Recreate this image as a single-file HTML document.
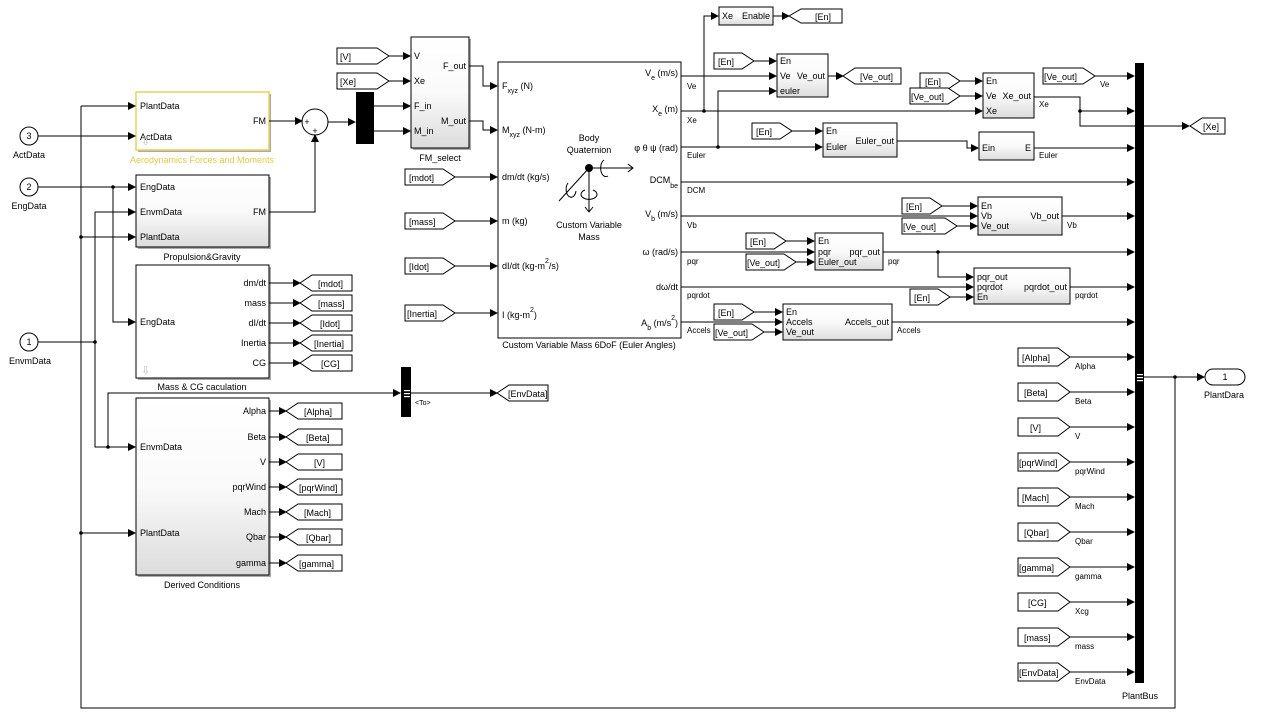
<!DOCTYPE html>
<html><head><meta charset="utf-8"><style>
html,body{margin:0;padding:0;background:#fff;}
svg{display:block;font-family:"Liberation Sans",sans-serif;font-size:9px;}
</style></head><body>
<svg width="1269" height="721" viewBox="0 0 1269 721" xmlns="http://www.w3.org/2000/svg">
<defs>
<marker id="a" markerWidth="8" markerHeight="8" refX="7" refY="4" orient="auto" markerUnits="userSpaceOnUse"><path d="M0,0 L8,4 L0,8 z" fill="#000"/></marker>
<linearGradient id="g" x1="0" y1="0" x2="0" y2="1"><stop offset="0" stop-color="#fff"/><stop offset="0.5" stop-color="#fafafa"/><stop offset="1" stop-color="#dcdcdc"/></linearGradient>
</defs>
<rect width="1269" height="721" fill="#fff"/>

<g stroke="#000" stroke-width="1">
<rect x="138" y="94" width="133" height="58" fill="#aaa" stroke="none"/>
<rect x="136" y="92" width="133" height="58" fill="#fff" stroke="#f0d050" stroke-width="1.5"/>
<rect x="138" y="177" width="133" height="72" fill="#aaa" stroke="none"/>
<rect x="136" y="175" width="133" height="72" fill="url(#g)"/>
<rect x="138" y="267" width="133" height="113" fill="#aaa" stroke="none"/>
<rect x="136" y="265" width="133" height="113" fill="#fff"/>
<rect x="138" y="400" width="133" height="177" fill="#aaa" stroke="none"/>
<rect x="136" y="398" width="133" height="177" fill="url(#g)"/>
<rect x="413" y="39" width="58" height="111" fill="#aaa" stroke="none"/>
<rect x="411" y="37" width="58" height="111" fill="url(#g)"/>
<rect x="498" y="62" width="183" height="276" fill="#fff"/>
<rect x="719" y="7" width="54" height="18" fill="url(#g)"/>
<rect x="777" y="54" width="51" height="43" fill="url(#g)"/>
<rect x="983" y="73" width="51" height="45" fill="url(#g)"/>
<rect x="823" y="123" width="74" height="34" fill="url(#g)"/>
<rect x="979" y="132" width="55" height="28" fill="url(#g)"/>
<rect x="978" y="197" width="84" height="38" fill="url(#g)"/>
<rect x="815" y="233" width="68" height="37" fill="url(#g)"/>
<rect x="974" y="268" width="96" height="36" fill="url(#g)"/>
<rect x="783" y="304" width="109" height="36" fill="url(#g)"/>
</g>
<rect x="356" y="92" width="18" height="52" fill="#000"/>
<rect x="401" y="367" width="10" height="50" fill="#000"/>
<rect x="404" y="390" width="6" height="1.2" fill="#fff"/><rect x="404" y="393" width="6" height="1.2" fill="#fff"/><rect x="404" y="396" width="6" height="1.2" fill="#fff"/>
<rect x="1135" y="63" width="9" height="620" fill="#000"/>
<rect x="1137" y="374" width="6" height="1.2" fill="#fff"/><rect x="1137" y="377" width="6" height="1.2" fill="#fff"/><rect x="1137" y="380" width="6" height="1.2" fill="#fff"/>

<g stroke="#000" fill="#fff">
<circle cx="29" cy="136" r="9"/><circle cx="29" cy="187" r="9"/><circle cx="29" cy="342" r="9"/>
<circle cx="315" cy="122" r="13"/>
<rect x="1205" y="369" width="40" height="16" rx="8"/>
</g>
<g text-anchor="middle">
<text x="29" y="139">3</text><text x="29" y="190">2</text><text x="29" y="345">1</text>
<text x="1225" y="380">1</text>
<text x="29" y="158">ActData</text><text x="29" y="209">EngData</text><text x="30" y="364">EnvmData</text>
<text x="1224" y="398">PlantDara</text>
<text x="307" y="125">+</text><text x="315" y="134">+</text>
</g>

<g stroke="#000" fill="none" stroke-width="1">
<path d="M38,136H135" marker-end="url(#a)"/>
<path d="M81,106H135" marker-end="url(#a)"/>
<path d="M81,106V708H1175V377"/>
<path d="M81,237H135" marker-end="url(#a)"/>
<path d="M81,533H135" marker-end="url(#a)"/>
<path d="M38,187H135" marker-end="url(#a)"/>
<path d="M113,187V322H135" marker-end="url(#a)"/>
<path d="M38,342H95"/>
<path d="M95,212H135" marker-end="url(#a)"/>
<path d="M95,212V447H135" marker-end="url(#a)"/>
<path d="M108,447V393H400" marker-end="url(#a)"/>
<path d="M269,121H302" marker-end="url(#a)"/>
<path d="M328,122H355" marker-end="url(#a)"/>
<path d="M269,212H315V135" marker-end="url(#a)"/>
<path d="M374,106H410" marker-end="url(#a)"/>
<path d="M374,131H410" marker-end="url(#a)"/>
<path d="M389,56H410" marker-end="url(#a)"/>
<path d="M389,81H410" marker-end="url(#a)"/>
<path d="M469,66H483V86H497" marker-end="url(#a)"/>
<path d="M469,121H483V130H497" marker-end="url(#a)"/>
<path d="M455,177H497" marker-end="url(#a)"/>
<path d="M455,221H497" marker-end="url(#a)"/>
<path d="M455,266H497" marker-end="url(#a)"/>
<path d="M455,313H497" marker-end="url(#a)"/>
<path d="M269,283H300" marker-end="url(#a)"/>
<path d="M269,303H300" marker-end="url(#a)"/>
<path d="M269,323H300" marker-end="url(#a)"/>
<path d="M269,343H300" marker-end="url(#a)"/>
<path d="M269,363H300" marker-end="url(#a)"/>
<path d="M269,411H286" marker-end="url(#a)"/>
<path d="M269,437H286" marker-end="url(#a)"/>
<path d="M269,462H286" marker-end="url(#a)"/>
<path d="M269,487H286" marker-end="url(#a)"/>
<path d="M269,512H286" marker-end="url(#a)"/>
<path d="M269,537H286" marker-end="url(#a)"/>
<path d="M269,563H286" marker-end="url(#a)"/>
<path d="M411,393H497" marker-end="url(#a)"/>
<path d="M681,76H776" marker-end="url(#a)"/>
<path d="M681,111H982" marker-end="url(#a)"/>
<path d="M704,111V16H718" marker-end="url(#a)"/>
<path d="M773,16H789" marker-end="url(#a)"/>
<path d="M828,76H843" marker-end="url(#a)"/>
<path d="M754,61H776" marker-end="url(#a)"/>
<path d="M681,147H822" marker-end="url(#a)"/>
<path d="M718,147V91H776" marker-end="url(#a)"/>
<path d="M897,141H967V148H978" marker-end="url(#a)"/>
<path d="M1034,148H1134" marker-end="url(#a)"/>
<path d="M960,81H982" marker-end="url(#a)"/>
<path d="M960,96H982" marker-end="url(#a)"/>
<path d="M1034,97H1080V126H1189" marker-end="url(#a)"/>
<path d="M1080,111H1134" marker-end="url(#a)"/>
<path d="M1095,76H1134" marker-end="url(#a)"/>
<path d="M792,131H822" marker-end="url(#a)"/>
<path d="M681,182H1134" marker-end="url(#a)"/>
<path d="M681,216H977" marker-end="url(#a)"/>
<path d="M942,206H977" marker-end="url(#a)"/>
<path d="M957,226H977" marker-end="url(#a)"/>
<path d="M1062,216H1134" marker-end="url(#a)"/>
<path d="M681,252H814" marker-end="url(#a)"/>
<path d="M786,241H814" marker-end="url(#a)"/>
<path d="M796,262H814" marker-end="url(#a)"/>
<path d="M883,252H1134" marker-end="url(#a)"/>
<path d="M938,252V277H973" marker-end="url(#a)"/>
<path d="M681,287H973" marker-end="url(#a)"/>
<path d="M950,297H973" marker-end="url(#a)"/>
<path d="M1070,287H1134" marker-end="url(#a)"/>
<path d="M681,322H782" marker-end="url(#a)"/>
<path d="M754,312H782" marker-end="url(#a)"/>
<path d="M764,332H782" marker-end="url(#a)"/>
<path d="M892,322H1134" marker-end="url(#a)"/>
<path d="M1070,357H1134" marker-end="url(#a)"/>
<path d="M1070,392H1134" marker-end="url(#a)"/>
<path d="M1070,427H1134" marker-end="url(#a)"/>
<path d="M1070,462H1134" marker-end="url(#a)"/>
<path d="M1070,497H1134" marker-end="url(#a)"/>
<path d="M1070,532H1134" marker-end="url(#a)"/>
<path d="M1070,567H1134" marker-end="url(#a)"/>
<path d="M1070,602H1134" marker-end="url(#a)"/>
<path d="M1070,637H1134" marker-end="url(#a)"/>
<path d="M1070,672H1134" marker-end="url(#a)"/>
<path d="M1144,377H1204" marker-end="url(#a)"/>
</g>
<g fill="#000">
<circle cx="81" cy="237" r="1.8"/><circle cx="81" cy="533" r="1.8"/><circle cx="113" cy="187" r="1.8"/>
<circle cx="95" cy="342" r="1.8"/><circle cx="108" cy="447" r="1.8"/><circle cx="704" cy="111" r="1.8"/>
<circle cx="718" cy="147" r="1.8"/><circle cx="1080" cy="111" r="1.8"/><circle cx="938" cy="252" r="1.8"/>
<circle cx="1175" cy="377" r="1.8"/>
</g>

<g stroke="#000" fill="#fff">
<path d="M337,48H377L389,56L377,64H337Z"/>
<path d="M337,73H377L389,81L377,89H337Z"/>
<path d="M405,169H443L455,177L443,185H405Z"/>
<path d="M405,213H443L455,221L443,229H405Z"/>
<path d="M405,258H443L455,266L443,274H405Z"/>
<path d="M405,305H443L455,313L443,321H405Z"/>
<path d="M714,53H742L754,61L742,69H714Z"/>
<path d="M752,123H780L792,131L780,139H752Z"/>
<path d="M920,73H948L960,81L948,89H920Z"/>
<path d="M910,88H948L960,96L948,104H910Z"/>
<path d="M1043,68H1083L1095,76L1083,84H1043Z"/>
<path d="M902,198H930L942,206L930,214H902Z"/>
<path d="M902,218H945L957,226L945,234H902Z"/>
<path d="M746,233H774L786,241L774,249H746Z"/>
<path d="M746,254H784L796,262L784,270H746Z"/>
<path d="M910,289H938L950,297L938,305H910Z"/>
<path d="M714,304H742L754,312L742,320H714Z"/>
<path d="M714,324H752L764,332L752,340H714Z"/>
<path d="M1018,348H1058L1070,357L1058,366H1018Z"/>
<path d="M1018,383H1058L1070,392L1058,401H1018Z"/>
<path d="M1018,418H1058L1070,427L1058,436H1018Z"/>
<path d="M1018,453H1058L1070,462L1058,471H1018Z"/>
<path d="M1018,488H1058L1070,497L1058,506H1018Z"/>
<path d="M1018,523H1058L1070,532L1058,541H1018Z"/>
<path d="M1018,558H1058L1070,567L1058,576H1018Z"/>
<path d="M1018,593H1058L1070,602L1058,611H1018Z"/>
<path d="M1018,628H1058L1070,637L1058,646H1018Z"/>
<path d="M1018,663H1058L1070,672L1058,681H1018Z"/>
<path d="M300,283L312,275H352V291H312Z"/>
<path d="M300,303L312,295H352V311H312Z"/>
<path d="M300,323L312,315H352V331H312Z"/>
<path d="M300,343L312,335H352V351H312Z"/>
<path d="M300,363L312,355H352V371H312Z"/>
<path d="M286,411L298,403H342V419H298Z"/>
<path d="M286,437L298,429H342V445H298Z"/>
<path d="M286,462L298,454H342V470H298Z"/>
<path d="M286,487L298,479H342V495H298Z"/>
<path d="M286,512L298,504H342V520H298Z"/>
<path d="M286,537L298,529H342V545H298Z"/>
<path d="M286,563L298,555H342V571H298Z"/>
<path d="M497,393L509,385H548V401H509Z"/>
<path d="M789,16L801,9H842V23H801Z"/>
<path d="M843,76L855,68H901V84H855Z"/>
<path d="M1190,126L1202,118H1225V134H1202Z"/>
</g>
<g font-size="9">
<text x="340" y="60">[V]</text><text x="340" y="85">[Xe]</text>
<text x="409" y="181">[mdot]</text><text x="409" y="225">[mass]</text><text x="409" y="270">[Idot]</text><text x="407" y="317">[Inertia]</text>
<text x="718" y="65">[En]</text><text x="756" y="135">[En]</text><text x="925" y="85">[En]</text><text x="911" y="100">[Ve_out]</text>
<text x="1044" y="80">[Ve_out]</text><text x="906" y="210">[En]</text><text x="903" y="230">[Ve_out]</text>
<text x="750" y="245">[En]</text><text x="747" y="266">[Ve_out]</text><text x="914" y="301">[En]</text>
<text x="718" y="316">[En]</text><text x="715" y="336">[Ve_out]</text>
<text x="1022" y="361">[Alpha]</text><text x="1024" y="396">[Beta]</text><text x="1030" y="431">[V]</text><text x="1019" y="466">[pqrWind]</text>
<text x="1022" y="501">[Mach]</text><text x="1024" y="536">[Qbar]</text><text x="1019" y="571">[gamma]</text><text x="1028" y="606">[CG]</text>
<text x="1024" y="641">[mass]</text><text x="1019" y="676">[EnvData]</text>
<text x="318" y="287">[mdot]</text><text x="318" y="307">[mass]</text><text x="320" y="327">[Idot]</text><text x="314" y="347">[Inertia]</text><text x="321" y="367">[CG]</text>
<text x="304" y="415">[Alpha]</text><text x="306" y="441">[Beta]</text><text x="314" y="466">[V]</text><text x="299" y="491">[pqrWind]</text>
<text x="304" y="516">[Mach]</text><text x="306" y="541">[Qbar]</text><text x="299" y="567">[gamma]</text>
<text x="508" y="397">[EnvData]</text><text x="815" y="20">[En]</text><text x="860" y="80">[Ve_out]</text><text x="1203" y="130">[Xe]</text>
</g>

<g font-size="9">
<text x="140" y="109">PlantData</text><text x="140" y="140">ActData</text><text x="266" y="124" text-anchor="end">FM</text>
<text x="140" y="190">EngData</text><text x="140" y="215">EnvmData</text><text x="140" y="240">PlantData</text><text x="266" y="215" text-anchor="end">FM</text>
<text x="140" y="325">EngData</text>
<g text-anchor="end"><text x="266" y="286">dm/dt</text><text x="266" y="306">mass</text><text x="266" y="326">dI/dt</text><text x="266" y="346">Inertia</text><text x="266" y="366">CG</text>
<text x="266" y="414">Alpha</text><text x="266" y="440">Beta</text><text x="266" y="465">V</text><text x="266" y="490">pqrWind</text><text x="266" y="515">Mach</text><text x="266" y="540">Qbar</text><text x="266" y="566">gamma</text>
<text x="466" y="69">F_out</text><text x="466" y="124">M_out</text></g>
<text x="140" y="450">EnvmData</text><text x="140" y="536">PlantData</text>
<text x="414" y="59">V</text><text x="414" y="84">Xe</text><text x="414" y="109">F_in</text><text x="414" y="134">M_in</text>
<g text-anchor="middle"><text x="202" y="163" fill="#e8c840">Aerodynamics Forces and Moments</text>
<text x="202" y="260">Propulsion&amp;Gravity</text><text x="202" y="390">Mass &amp; CG caculation</text><text x="202" y="588">Derived Conditions</text>
<text x="440" y="161">FM_select</text><text x="589" y="348">Custom Variable Mass 6DoF (Euler Angles)</text>
<text x="589" y="141">Body</text><text x="589" y="153">Quaternion</text><text x="589" y="228">Custom Variable</text><text x="589" y="240">Mass</text>
<text x="1140" y="699">PlantBus</text></g>
<text x="141" y="145" fill="#bbb" font-size="11">⇩</text><text x="141" y="374" fill="#bbb" font-size="11">⇩</text>
<text x="502" y="89">F<tspan font-size="7" dy="4">xyz</tspan><tspan dy="-4"> (N)</tspan></text>
<text x="502" y="133">M<tspan font-size="7" dy="4">xyz</tspan><tspan dy="-4"> (N-m)</tspan></text>
<text x="502" y="180">dm/dt (kg/s)</text><text x="502" y="224">m (kg)</text>
<text x="502" y="269">dI/dt (kg-m<tspan font-size="7" dy="-6">2</tspan><tspan dy="6">/s)</tspan></text>
<text x="502" y="318">I (kg-m<tspan font-size="7" dy="-6">2</tspan><tspan dy="6">)</tspan></text>
<g text-anchor="end">
<text x="678" y="76">V<tspan font-size="7" dy="4">e</tspan><tspan dy="-4"> (m/s)</tspan></text>
<text x="678" y="112">X<tspan font-size="7" dy="4">e</tspan><tspan dy="-4"> (m)</tspan></text>
<text x="678" y="151">φ θ ψ (rad)</text>
<text x="678" y="183">DCM<tspan font-size="7" dy="5">be</tspan></text>
<text x="678" y="217">V<tspan font-size="7" dy="4">b</tspan><tspan dy="-4"> (m/s)</tspan></text>
<text x="678" y="255">ω (rad/s)</text><text x="678" y="290">dω/dt</text>
<text x="678" y="326">A<tspan font-size="7" dy="4">b</tspan><tspan dy="-4"> (m/s</tspan><tspan font-size="7" dy="-6">2</tspan><tspan dy="6">)</tspan></text>
</g>
<g stroke="#000" fill="none">
<path d="M589,168H632M589,168V212M589,168L559,201"/>
<path d="M628,164L633,168L628,172" /><path d="M585,207L589,212L593,207"/>
<path d="M604,160a5,8 0 1 0 4,16"/><path d="M585,190a8,5 0 1 0 8,0"/><path d="M568,183a5,8 0 1 0 8,8"/>
</g>
<circle cx="589" cy="168" r="4" fill="#000"/>
<text x="722" y="19">Xe</text><text x="770" y="19" text-anchor="end">Enable</text>
<text x="780" y="64">En</text><text x="780" y="79">Ve</text><text x="780" y="94">euler</text><text x="825" y="79" text-anchor="end">Ve_out</text>
<text x="986" y="84">En</text><text x="986" y="99">Ve</text><text x="986" y="114">Xe</text><text x="1031" y="99" text-anchor="end">Xe_out</text>
<text x="826" y="134">En</text><text x="826" y="150">Euler</text><text x="894" y="144" text-anchor="end">Euler_out</text>
<text x="982" y="151">Ein</text><text x="1031" y="151" text-anchor="end">E</text>
<text x="981" y="209">En</text><text x="981" y="219">Vb</text><text x="981" y="229">Ve_out</text><text x="1059" y="219" text-anchor="end">Vb_out</text>
<text x="818" y="244">En</text><text x="818" y="255">pqr</text><text x="818" y="265">Euler_out</text><text x="880" y="255" text-anchor="end">pqr_out</text>
<text x="977" y="280">pqr_out</text><text x="977" y="290">pqrdot</text><text x="977" y="300">En</text><text x="1067" y="290" text-anchor="end">pqrdot_out</text>
<text x="786" y="315">En</text><text x="786" y="325">Accels</text><text x="786" y="335">Ve_out</text><text x="889" y="325" text-anchor="end">Accels_out</text>
<text x="415" y="405" font-size="7">&lt;To&gt;</text>
</g>
<g font-size="8">
<text x="687" y="89">Ve</text><text x="687" y="123">Xe</text><text x="687" y="158">Euler</text><text x="687" y="193">DCM</text>
<text x="687" y="228">Vb</text><text x="687" y="264">pqr</text><text x="687" y="298">pqrdot</text><text x="687" y="333">Accels</text>
<text x="1039" y="107">Xe</text><text x="1039" y="158">Euler</text><text x="1067" y="228">Vb</text><text x="888" y="264">pqr</text>
<text x="1075" y="298">pqrdot</text><text x="897" y="333">Accels</text><text x="1100" y="87">Ve</text>
<text x="1075" y="369">Alpha</text><text x="1075" y="404">Beta</text><text x="1075" y="439">V</text><text x="1075" y="474">pqrWind</text>
<text x="1075" y="509">Mach</text><text x="1075" y="544">Qbar</text><text x="1075" y="579">gamma</text><text x="1075" y="614">Xcg</text>
<text x="1075" y="649">mass</text><text x="1075" y="684">EnvData</text>
</g>
</svg>
</body></html>
